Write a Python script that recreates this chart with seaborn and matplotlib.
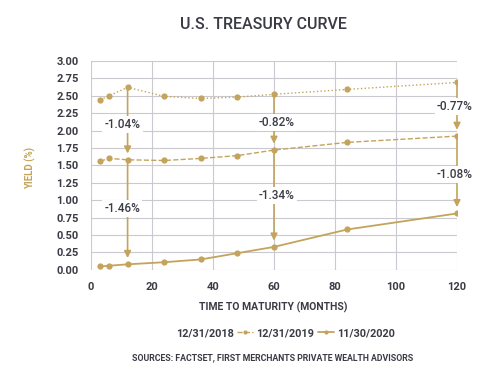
import numpy as np
import pandas as pd
import matplotlib
matplotlib.use('Agg')
import matplotlib.pyplot as plt
from matplotlib.lines import Line2D
import seaborn as sns

# Data
months = [3, 6, 12, 24, 36, 48, 60, 84, 120]
y2018 = [2.44, 2.50, 2.62, 2.49, 2.46, 2.48, 2.52, 2.59, 2.69]
y2019 = [1.56, 1.60, 1.58, 1.57, 1.60, 1.64, 1.72, 1.83, 1.92]
y2020 = [0.05, 0.06, 0.08, 0.11, 0.15, 0.24, 0.33, 0.58, 0.81]
labels = ['12/31/2018', '12/31/2019', '11/30/2020']

# change annotations at three maturities
arrow_months = [12, 60, 120]
upper_changes = ['-1.04%', '-0.82%', '-0.77%']
lower_changes = ['-1.46%', '-1.34%', '-1.08%']
upper_text_y = [2.09, 2.12, 2.34]
lower_text_y = [0.88, 1.07, 1.37]
text_x = [10.3, 60.9, 119.3]

gold = '#C4A45C'
dark = '#3B3B45'
grid = '#C9C9CF'

sns.set_style('white')
plt.rcParams['font.family'] = ['Roboto', 'DejaVu Sans']

df = pd.DataFrame({'months': months * 3,
                   'yield': y2018 + y2019 + y2020,
                   'date': np.repeat(labels, len(months))})

fig = plt.figure(figsize=(5, 3.78), dpi=100)
ax = fig.add_axes([0.182, 0.286, 0.732, 0.553])

styles = {labels[0]: (':', 1.0), labels[1]: ('--', 1.0), labels[2]: ('-', 1.3)}
for lab in labels:
    sub = df[df['date'] == lab]
    ls, lw = styles[lab]
    sns.lineplot(data=sub, x='months', y='yield', ax=ax, color=gold,
                 linestyle=ls, linewidth=lw, marker='o', markersize=4.5,
                 markeredgewidth=0, legend=False, zorder=3)

# arrows between curves
for i, m in enumerate(arrow_months):
    k = months.index(m)
    pairs = [(y2018[k], y2019[k], upper_changes[i], upper_text_y[i]),
             (y2019[k], y2020[k], lower_changes[i], lower_text_y[i])]
    for top, bot, txt, ty in pairs:
        ax.annotate('', xy=(m, bot + 0.09), xytext=(m, top),
                    arrowprops=dict(arrowstyle='-|>', color=gold, lw=1.2,
                                    mutation_scale=10, shrinkA=0, shrinkB=0),
                    zorder=4)
        ax.text(text_x[i], ty, txt, ha='center', va='center', fontsize=8.5,
                fontweight='medium', color=dark, zorder=5,
                bbox=dict(facecolor='white', edgecolor='none', pad=1.5))

ax.set_xlim(0, 120)
ax.set_ylim(0, 3)
ax.set_xticks(range(0, 121, 20))
ax.set_yticks(np.arange(0, 3.01, 0.25))
ax.set_yticklabels([f'{v:.2f}' for v in np.arange(0, 3.01, 0.25)])
ax.grid(True, color=grid, linewidth=0.8)
ax.set_axisbelow(True)
for s in ax.spines.values():
    s.set_visible(False)
ax.tick_params(axis='x', length=4, color=grid, width=0.8, pad=5,
               labelsize=8, labelcolor=dark)
ax.tick_params(axis='y', length=0, pad=9, labelsize=8, labelcolor=dark)
for t in ax.get_xticklabels() + ax.get_yticklabels():
    t.set_fontweight('bold')
ax.set_xlabel('')
ax.set_ylabel('')

fig.text(0.527, 0.934, 'U.S. TREASURY CURVE', ha='center', va='center',
         fontsize=11.5, fontweight='medium', color=dark)
fig.text(0.547, 0.188, 'TIME TO MATURITY (MONTHS)', ha='center', va='center',
         fontsize=7.5, fontweight='bold', color=dark)
fig.text(0.06, 0.555, 'YIELD (%)', ha='center', va='center', rotation=90,
         fontsize=7, fontweight='bold', color=gold)

handles = [Line2D([], [], color='none', linestyle=':', lw=1.0),
           Line2D([], [], color=gold, linestyle='--', lw=1.0, marker='o',
                  markersize=3, markeredgewidth=0),
           Line2D([], [], color=gold, linestyle='-', lw=1.3, marker='o',
                  markersize=3, markeredgewidth=0)]
leg = fig.legend(handles, labels, loc='center', bbox_to_anchor=(0.551, 0.119),
                 ncol=3, frameon=False, fontsize=7.8, handlelength=1.5,
                 handletextpad=0.3, columnspacing=0.3, labelcolor=dark)
for t in leg.get_texts():
    t.set_fontweight('bold')

fig.text(0.545, 0.053, 'SOURCES: FACTSET, FIRST MERCHANTS PRIVATE WEALTH ADVISORS',
         ha='center', va='center', fontsize=6.3, fontweight='bold', color=dark)

fig.savefig('out.png', dpi=100)
